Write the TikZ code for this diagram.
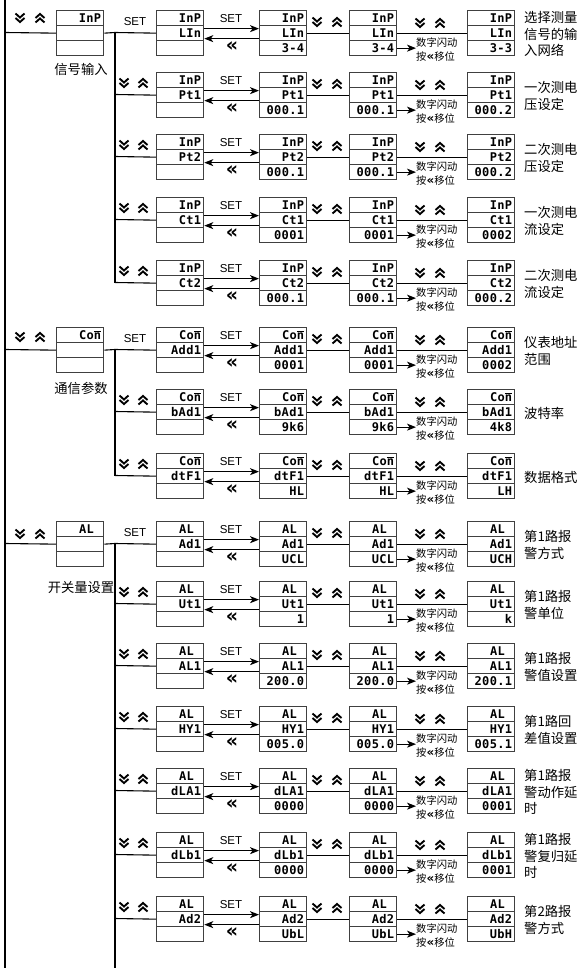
\documentclass[tikz,border=0pt]{standalone}
\usepackage{fontspec}
\setmainfont{Liberation Sans}
\newfontfamily\cjk{Noto Sans CJK SC}
\newfontfamily\segfont{DejaVu Sans Mono}[LetterSpace=3]
\newfontfamily\symf{DejaVu Sans}
\usetikzlibrary{arrows.meta}
\newcommand\Con{Co\smash{$\overline{\mbox{n}}$}}
\newcommand\ALx{AL\phantom{0}}
\tikzset{
 conn/.style={draw=black, line width=1.1pt},
 cell/.style={rectangle, draw=black!75, line width=1.3pt, anchor=north west, minimum width=47pt, minimum height=15pt, text width=42pt, align=right, inner xsep=2.5pt, inner ysep=0pt, font=\segfont\bfseries\fontsize{12}{12}\selectfont},
 setlbl/.style={font=\fontsize{11.5}{12}\selectfont, inner sep=0pt},
 dq/.style={font=\symf\bfseries\fontsize{19}{19}\selectfont, inner sep=0pt},
 flash/.style={anchor=west, align=left, inner sep=0pt, font=\cjk\fontsize{10.3}{14}\selectfont},
 desc/.style={anchor=west, align=left, inner sep=0pt, font=\cjk\fontsize{13.3}{16.5}\selectfont},
 lbl/.style={inner sep=0pt, font=\cjk\fontsize{13.3}{16}\selectfont},
 chev/.style={line width=1.9pt, line join=miter, line cap=butt},
 chevdn/.pic={\draw[chev] (-4.5,-4.5)--(0,-0.5)--(4.5,-4.5); \draw[chev] (-4.5,0)--(0,4)--(4.5,0);},
 chevup/.pic={\draw[chev] (-4.5,4.5)--(0,0.5)--(4.5,4.5); \draw[chev] (-4.5,0)--(0,-4)--(4.5,0);},
 >={Stealth[length=9pt,width=7pt,inset=2.5pt]},
}
% display: name, x, y, row1, row2, row3
\newcommand\lcd[6]{%
 \node[cell] (#1a) at (#2,#3) {#4};
 \node[cell] (#1b) at (#2,#3+15) {#5};
 \node[cell] (#1c) at (#2,#3+30) {#6};
}
% level-1 section: id, top, name, label, chevron dy, label dy
\newcommand\sect[6]{%
 \lcd{#1A}{56}{#2}{#3}{}{}
 \coordinate (#1L) at (5,#2+22.5);
 \draw[conn] (#1L) -- (#1Ab.west);
 \pic at (20,#2+#5) {chevdn};
 \pic at (40,#2+#5) {chevup};
 \node[lbl] (#1lb) at (81,#2+#6) {#4};
 \coordinate (#1J) at (115,#2+22.5);
 \draw[conn] (#1Ab.east) -- (#1J);
 \node[setlbl] (#1set) at (135,#2+12) {SET};
}
% parameter row: id, top, sec, param, value, next value, description
\newcommand\prow[7]{%
 \lcd{#1B}{156}{#2}{#3}{#4}{}
 \lcd{#1C}{259}{#2}{#3}{#4}{#5}
 \lcd{#1D}{349}{#2}{#3}{#4}{#5}
 \lcd{#1E}{467}{#2}{#3}{#4}{#6}
 \draw[conn,->] ([yshift=4.5pt]#1Bb.east) -- ([yshift=4.5pt]#1Cb.west);
 \draw[conn,->] ([yshift=-5.5pt]#1Cb.west) -- ([yshift=-5.5pt]#1Bb.east);
 \node[setlbl] (#1set) at (231,#2+9) {SET};
 \node[dq] (#1dq) at (232,#2+37) {«};
 \draw[conn] (#1Cb) -- (#1Db);
 \pic at (317,#2+12) {chevdn};
 \pic at (337,#2+12) {chevup};
 \draw[conn] (#1Db) -- (#1Eb);
 \pic at (420,#2+13) {chevdn};
 \pic at (440,#2+13) {chevup};
 \node[flash] (#1fl) at (416,#2+40) {数字闪动\\按{\symf\bfseries\fontsize{12}{12}\selectfont «}移位};
 \draw[conn,->] (#1Dc.east) -- (#1Dc.east -| #1fl.west);
 \node[desc] (#1ds) at (524,#2+24) {#7};
 \coordinate (#1j) at (115,#2+22.5);
 \draw[conn] (#1j) -- (#1Bb.west);
}
\newcommand\brchev[1]{%
 \pic at (124,#1+11) {chevdn};
 \pic at (143,#1+11) {chevup};
}
\begin{document}
\begin{tikzpicture}[x=1pt,y=-1pt]
\useasboundingbox (0,0) rectangle (579,968);
\coordinate (spTop) at (5,0);
\coordinate (spBot) at (5,968);
\draw[conn] (spTop) -- (spBot);
% ---------- InP ----------
\sect{inp}{10}{InP}{信号输入}{8}{59}
\prow{i1}{10}{InP}{LIn}{3-4}{3-3}{选择测量\\信号的输\\入网络}
\prow{i2}{72}{InP}{Pt1}{000.1}{000.2}{一次测电\\压设定}
\prow{i3}{134}{InP}{Pt2}{000.1}{000.2}{二次测电\\压设定}
\prow{i4}{197}{InP}{Ct1}{0001}{0002}{一次测电\\流设定}
\prow{i5}{260}{InP}{Ct2}{000.1}{000.2}{二次测电\\流设定}
\brchev{72}\brchev{134}\brchev{197}\brchev{260}
\draw[conn] (inpJ) -- (i5j);
% ---------- Con ----------
\sect{con}{327}{\Con}{通信参数}{10}{61}
\prow{c1}{327}{\Con}{Add1}{0001}{0002}{仪表地址\\范围}
\prow{c2}{389}{\Con}{bAd1}{9k6}{4k8}{波特率}
\prow{c3}{453}{\Con}{dtF1}{HL}{LH}{数据格式}
\brchev{389}\brchev{453}
\draw[conn] (conJ) -- (c3j);
% ---------- AL ----------
\sect{al}{521}{\ALx}{开关量设置}{13}{66}
\prow{a1}{521}{\ALx}{Ad1}{UCL}{UCH}{第1路报\\警方式}
\prow{a2}{581}{\ALx}{Ut1}{1}{k}{第1路报\\警单位}
\prow{a3}{643}{\ALx}{AL1}{200.0}{200.1}{第1路报\\警值设置}
\prow{a4}{706}{\ALx}{HY1}{005.0}{005.1}{第1路回\\差值设置}
\prow{a5}{768}{\ALx}{dLA1}{0000}{0001}{第1路报\\警动作延\\时}
\prow{a6}{832}{\ALx}{dLb1}{0000}{0001}{第1路报\\警复归延\\时}
\prow{a7}{896}{\ALx}{Ad2}{UbL}{UbH}{第2路报\\警方式}
\brchev{581}\brchev{643}\brchev{706}\brchev{768}\brchev{832}\brchev{896}
\coordinate (alEnd) at (115,968);
\draw[conn] (alJ) -- (alEnd);
\end{tikzpicture}
\end{document}
